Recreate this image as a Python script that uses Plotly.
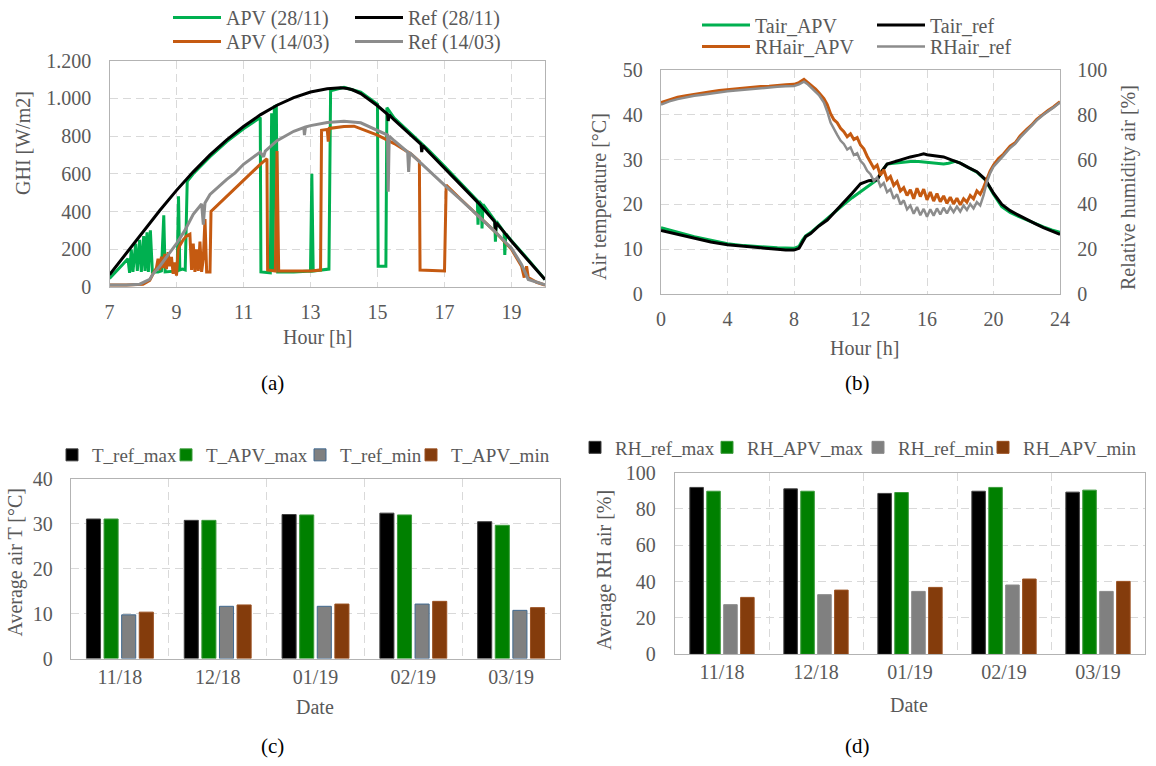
import plotly.graph_objects as go

W, H = 1156, 766
FONT = "Liberation Serif"
TXT = "#595959"
GRID = "#d9d9d9"
FRAME = "#b3b3b3"

# ---------------- (a) GHI data (hour, W/m2) ----------------
ghi_hour_ticks = [7, 9, 11, 13, 15, 17, 19]
ghi_value_ticks = [0, 200, 400, 600, 800, 1000, 1200]
ghi_value_labels = ["0", "200", "400", "600", "800", "1.000", "1.200"]

apv_2811 = [(7.00, 45), (7.20, 80), (7.40, 120), (7.55, 150), (7.60, 75), (7.65, 200), (7.70, 80),
            (7.78, 230), (7.83, 85), (7.90, 250), (7.95, 80), (8.02, 270), (8.06, 85), (8.12, 290),
            (8.16, 80), (8.22, 300), (8.28, 80), (8.45, 80), (8.55, 85), (8.62, 380), (8.66, 80),
            (9.02, 85), (9.06, 480), (9.10, 90), (9.18, 95), (9.26, 90), (9.32, 560), (9.50, 600),
            (10.0, 690), (10.5, 770), (11.0, 838), (11.5, 898), (11.52, 80), (11.80, 75), (11.84, 920),
            (11.88, 90), (11.92, 955), (11.98, 960), (12.02, 80), (12.5, 80), (13.0, 85), (13.04, 600),
            (13.08, 85), (13.55, 95), (13.60, 1040), (14.0, 1058), (14.5, 1032), (15.0, 968),
            (15.02, 110), (15.25, 110), (15.28, 950), (15.5, 895), (16.0, 815), (16.5, 730),
            (17.0, 640), (17.5, 550), (17.98, 458), (18.0, 330), (18.03, 455), (18.10, 440),
            (18.12, 310), (18.15, 438), (18.50, 352), (18.52, 240), (18.55, 348), (18.78, 290),
            (18.80, 170), (18.83, 282), (19.0, 245), (19.5, 145), (19.8, 85), (20.0, 40)]

ref_2811 = [(7.0, 65), (7.5, 180), (8.0, 295), (8.5, 405), (9.0, 512), (9.5, 610), (10.0, 700),
            (10.5, 780), (11.0, 850), (11.5, 912), (12.0, 963), (12.5, 1003), (13.0, 1033),
            (13.5, 1050), (13.9, 1055), (14.1, 1052), (14.25, 1045), (14.5, 1025),
            (15.0, 960), (15.3, 915), (15.32, 880), (15.35, 912), (15.5, 885), (16.0, 805),
            (16.3, 755), (16.32, 715), (16.35, 750), (16.5, 720), (17.0, 630), (17.5, 540),
            (18.0, 447), (18.5, 345), (18.52, 290), (18.55, 340), (19.0, 242), (19.5, 140),
            (19.8, 82), (20.0, 40)]

apv_1403 = [(7.0, 10), (7.5, 10), (8.0, 15), (8.2, 35), (8.3, 70), (8.4, 100), (8.45, 150), (8.5, 90),
            (8.55, 160), (8.6, 100), (8.65, 175), (8.7, 95), (8.75, 185), (8.8, 110), (8.85, 160),
            (8.9, 70), (8.95, 130), (9.0, 60), (9.05, 200), (9.1, 220), (9.2, 250), (9.3, 270),
            (9.4, 280), (9.45, 90), (9.5, 230), (9.55, 80), (9.6, 200), (9.65, 85), (9.7, 240),
            (9.75, 80), (9.8, 150), (9.85, 360), (9.9, 80), (10.0, 80), (10.03, 400), (10.5, 480),
            (11.0, 570), (11.5, 650), (11.7, 680), (11.72, 90), (11.95, 85), (12.0, 720), (12.05, 85),
            (12.5, 85), (13.0, 85), (13.3, 90), (13.33, 830), (13.5, 835), (13.53, 770), (13.56, 840),
            (14.0, 850), (14.3, 852), (15.0, 805), (15.5, 760), (16.0, 705), (16.25, 665), (16.27, 90),
            (17.0, 85), (17.05, 540), (17.5, 462), (18.0, 380), (18.5, 295), (19.0, 200), (19.3, 110),
            (19.38, 50), (19.45, 110), (19.5, 50), (19.6, 40), (19.75, 25), (20.0, 10)]

ref_1403 = [(7.0, 10), (7.5, 10), (7.9, 15), (8.2, 40), (8.3, 70), (8.5, 110), (8.75, 170), (9.0, 230),
            (9.25, 300), (9.5, 385), (9.75, 440), (9.8, 330), (9.85, 445), (10.0, 490), (10.5, 570),
            (10.75, 605), (11.0, 650), (11.5, 715), (11.6, 690), (11.65, 720), (12.0, 775),
            (12.5, 825), (12.8, 845), (12.82, 805), (12.85, 848), (13.0, 855), (13.5, 872),
            (14.0, 878), (14.5, 870), (15.0, 830), (15.3, 805), (15.32, 505), (15.35, 800),
            (15.5, 775), (15.9, 715), (15.93, 610), (15.96, 712), (16.0, 705), (16.5, 620),
            (17.0, 540), (17.5, 460), (18.0, 380), (18.5, 295), (19.0, 205), (19.3, 120),
            (19.5, 40), (19.75, 25), (20.0, 12)]

# ---------------- (b) air temperature / RH data (hour, value) ----------------
tair_apv = [(0, 14.8), (1, 13.8), (2, 12.8), (3, 12.0), (4, 11.2), (5, 10.8), (6, 10.5), (7, 10.3),
            (8, 10.2), (8.3, 10.6), (8.5, 12.0), (8.7, 13.0), (9, 13.7), (9.5, 15.3), (10, 16.8),
            (10.5, 18.6), (11, 20.0), (11.5, 21.5), (12, 22.8), (12.5, 24.0), (13, 25.5), (13.3, 27.5),
            (13.6, 29.0), (14, 29.2), (14.5, 29.4), (15, 29.6), (15.5, 29.6), (16, 29.4), (16.5, 29.1),
            (17, 29.0), (17.3, 29.2), (17.7, 29.6), (18, 29.2), (18.5, 28.2), (19, 27.2), (19.5, 25.5),
            (20, 22.3), (20.5, 19.5), (21, 18.2), (21.5, 17.3), (22, 16.5), (22.5, 15.7), (23, 15.0),
            (23.5, 14.3), (24, 13.8)]

tair_ref = [(0, 14.2), (1, 13.3), (2, 12.4), (3, 11.6), (4, 11.0), (5, 10.6), (6, 10.3), (7, 10.0),
            (7.5, 9.8), (8, 9.8), (8.3, 10.2), (8.5, 11.5), (8.7, 12.8), (9, 13.5), (9.5, 15.2),
            (10, 16.5), (10.5, 18.5), (11, 20.3), (11.5, 22.5), (12, 24.6), (12.5, 25.3), (13, 25.5),
            (13.3, 27.5), (13.6, 29.0), (14, 29.5), (14.5, 30.0), (15, 30.6), (15.5, 31.0), (15.8, 31.3),
            (16, 31.1), (16.5, 30.8), (17, 30.6), (17.5, 29.9), (18, 29.2), (18.5, 28.2), (19, 27.3),
            (19.5, 25.6), (20, 22.5), (20.5, 20.0), (21, 18.6), (21.5, 17.6), (22, 16.6), (22.5, 15.7),
            (23, 14.8), (23.5, 14.0), (24, 13.3)]

rhair_apv = [(0, 85.5), (0.5, 86.8), (1, 87.8), (1.5, 88.5), (2, 89.2), (2.5, 89.6), (3, 90.3),
             (3.5, 90.8), (4, 91.2), (4.5, 91.4), (5, 91.9), (5.5, 92.3), (6, 92.6), (6.5, 92.8),
             (7, 93.2), (7.5, 93.4), (8, 93.6), (8.3, 94.4), (8.6, 95.8), (8.8, 94.6), (9, 93.3),
             (9.3, 91.5), (9.5, 89.8), (9.8, 87.2), (10, 84.5), (10.2, 80.5), (10.4, 77.8), (10.6, 76.5),
             (10.8, 74.0), (11, 72.5), (11.2, 70.2), (11.4, 71.5), (11.6, 69.0), (11.8, 69.8), (12, 66.5),
             (12.2, 64.8), (12.4, 61.5), (12.6, 59.0), (12.8, 56.2), (13, 57.5), (13.2, 53.0), (13.4, 55.5),
             (13.6, 51.0), (13.8, 52.5), (14, 48.5), (14.2, 50.2), (14.4, 46.0), (14.6, 47.5), (14.8, 44.0),
             (15, 46.5), (15.2, 42.5), (15.4, 47.2), (15.6, 43.5), (15.8, 46.8), (16, 42.0), (16.2, 45.5),
             (16.4, 41.5), (16.6, 44.8), (16.8, 41.2), (17, 43.8), (17.2, 40.5), (17.4, 43.2), (17.6, 40.2),
             (17.8, 42.8), (18, 39.8), (18.2, 42.5), (18.4, 41.0), (18.6, 44.0), (18.8, 42.5), (19, 46.0),
             (19.2, 44.5), (19.4, 47.5), (19.6, 51.5), (19.8, 55.0), (20, 57.5), (20.3, 60.5), (20.6, 62.5),
             (21, 66.0), (21.3, 67.5), (21.6, 70.5), (22, 73.5), (22.3, 75.5), (22.6, 78.0), (23, 80.5),
             (23.3, 82.0), (23.6, 83.5), (24, 85.8)]

rhair_ref = [(0, 84.6), (0.5, 86.0), (1, 87.0), (1.5, 87.8), (2, 88.5), (2.5, 89.0), (3, 89.6),
             (3.5, 90.1), (4, 90.5), (4.5, 90.8), (5, 91.2), (5.5, 91.6), (6, 91.9), (6.5, 92.2),
             (7, 92.5), (7.5, 92.7), (8, 92.9), (8.3, 93.6), (8.6, 94.8), (8.8, 93.8), (9, 92.4),
             (9.3, 90.5), (9.5, 88.8), (9.8, 85.5), (10, 81.5), (10.2, 76.5), (10.4, 73.5), (10.6, 71.0),
             (10.8, 68.5), (11, 67.0), (11.2, 64.5), (11.4, 65.5), (11.6, 62.0), (11.8, 62.8), (12, 59.5),
             (12.2, 57.8), (12.4, 55.0), (12.6, 53.5), (12.8, 50.5), (13, 52.0), (13.2, 48.0), (13.4, 49.5),
             (13.6, 45.5), (13.8, 46.8), (14, 42.5), (14.2, 44.5), (14.4, 40.0), (14.6, 41.8), (14.8, 37.8),
             (15, 39.5), (15.2, 35.8), (15.4, 38.8), (15.6, 35.2), (15.8, 38.0), (16, 34.5), (16.2, 37.8),
             (16.4, 35.0), (16.6, 38.2), (16.8, 35.5), (17, 38.5), (17.2, 36.0), (17.4, 38.8), (17.6, 36.5),
             (17.8, 39.0), (18, 36.8), (18.2, 39.5), (18.4, 37.5), (18.6, 40.2), (18.8, 38.2), (19, 41.0),
             (19.2, 39.5), (19.4, 44.0), (19.6, 50.0), (19.8, 54.0), (20, 56.8), (20.3, 59.5), (20.6, 61.8),
             (21, 65.2), (21.3, 67.0), (21.6, 69.8), (22, 72.8), (22.3, 75.0), (22.6, 77.5), (23, 80.0),
             (23.3, 81.5), (23.6, 83.2), (24, 85.5)]

# ---------------- (c) / (d) monthly averages ----------------
months = ["11/18", "12/18", "01/19", "02/19", "03/19"]
t_ref_max = [31.0, 30.7, 32.0, 32.3, 30.4]
t_apv_max = [31.0, 30.7, 31.9, 31.9, 29.6]
t_ref_min = [9.7, 11.6, 11.6, 12.1, 10.7]
t_apv_min = [10.3, 11.9, 12.1, 12.7, 11.3]

rh_ref_max = [91.8, 91.0, 88.5, 89.7, 89.2]
rh_apv_max = [89.7, 89.7, 89.0, 91.8, 90.3]
rh_ref_min = [27.3, 32.8, 34.6, 38.1, 34.6]
rh_apv_min = [31.3, 35.3, 36.8, 41.4, 40.1]


def hx(p):
    return p / W


def vy(p):
    return 1 - p / H


fig = go.Figure()


def add_line(data, name, color, width, legend, xa, ya):
    fig.add_trace(go.Scatter(x=[d[0] for d in data], y=[d[1] for d in data], mode="lines",
                             name=name, line=dict(color=color, width=width),
                             legend=legend, xaxis=xa, yaxis=ya, hoverinfo="x+y+name"))


# (a)
add_line(apv_2811, "APV (28/11)", "#00B050", 3, "legend", "x", "y")
add_line(ref_2811, "Ref (28/11)", "#000000", 3, "legend2", "x", "y")
add_line(apv_1403, "APV (14/03)", "#C55A11", 3, "legend3", "x", "y")
add_line(ref_1403, "Ref (14/03)", "#8C8C8C", 3, "legend4", "x", "y")

# (b)
add_line(tair_apv, "Tair_APV", "#00B050", 3, "legend5", "x2", "y2")
add_line(tair_ref, "Tair_ref", "#000000", 3, "legend6", "x2", "y2")
add_line(rhair_apv, "RHair_APV", "#C55A11", 3, "legend7", "x2", "y3")
add_line(rhair_ref, "RHair_ref", "#8C8C8C", 2.5, "legend8", "x2", "y3")


def add_bar(vals, name, color, edge, legend, xa, ya):
    fig.add_trace(go.Bar(x=months, y=vals, name=name, marker=dict(color=color, line=dict(color=edge, width=1)),
                         legend=legend, xaxis=xa, yaxis=ya))


# (c)
add_bar(t_ref_max, "T_ref_max", "#000000", "#404040", "legend9", "x3", "y4")
add_bar(t_apv_max, "T_APV_max", "#008000", "#3a9a3a", "legend10", "x3", "y4")
add_bar(t_ref_min, "T_ref_min", "#808080", "#41698f", "legend11", "x3", "y4")
add_bar(t_apv_min, "T_APV_min", "#843C0C", "#9a5020", "legend12", "x3", "y4")
# (d)
add_bar(rh_ref_max, "RH_ref_max", "#000000", "#404040", "legend13", "x4", "y5")
add_bar(rh_apv_max, "RH_APV_max", "#008000", "#3a9a3a", "legend14", "x4", "y5")
add_bar(rh_ref_min, "RH_ref_min", "#808080", "#8a8a8a", "legend15", "x4", "y5")
add_bar(rh_apv_min, "RH_APV_min", "#843C0C", "#9a5020", "legend16", "x4", "y5")

tfont = dict(family=FONT, size=20, color=TXT)
lfont_bar = dict(family=FONT, size=19, color=TXT)


def axis(dom, **kw):
    d = dict(domain=dom, showgrid=True, gridcolor=GRID, griddash="8px,5px", gridwidth=1.3,
             showline=True, mirror=True, linecolor=FRAME, linewidth=1.3, zeroline=False,
             ticks="outside", tickcolor="rgba(0,0,0,0)", tickfont=tfont, fixedrange=True)
    d.update(kw)
    return d


def legend_at(text_x, y, iw, font):
    return dict(x=hx(text_x - (iw + 10)), y=vy(y), xanchor="left", yanchor="middle",
                orientation="h", bgcolor="rgba(0,0,0,0)", borderwidth=0, font=font,
                itemwidth=iw, visible=True)


layout = dict(
    width=W, height=H, margin=dict(l=0, r=0, t=0, b=0, autoexpand=False), autosize=False,
    paper_bgcolor="white", plot_bgcolor="white", showlegend=True,
    font=dict(family=FONT, size=20, color=TXT),
    barmode="group", bargap=0.28, bargroupgap=0.2,
    xaxis=axis([hx(109.5), hx(545)], anchor="y", range=[7, 20], tickvals=ghi_hour_ticks, ticklen=7),
    yaxis=axis([vy(287), vy(60.5)], anchor="x", range=[0, 1200], tickvals=ghi_value_ticks,
               ticktext=ghi_value_labels, ticklen=13),
    xaxis2=axis([hx(661), hx(1060)], anchor="y2", range=[0, 24], dtick=4, tick0=0, ticklen=7),
    yaxis2=axis([vy(294), vy(70)], anchor="x2", range=[0, 50], dtick=10, tick0=0, ticklen=13),
    yaxis3=axis([vy(294), vy(70)], anchor="x2", overlaying="y2", side="right", range=[0, 100],
                dtick=20, tick0=0, ticklen=12, showgrid=False, mirror=False),
    xaxis3=axis([hx(71), hx(560)], anchor="y4", type="category", tickson="boundaries", ticklen=14),
    yaxis4=axis([vy(658.5), vy(478.5)], anchor="x3", range=[0, 40], dtick=10, tick0=0, ticklen=13),
    xaxis4=axis([hx(675), hx(1145)], anchor="y5", type="category", tickson="boundaries", ticklen=13),
    yaxis5=axis([vy(654.3), vy(472.5)], anchor="x4", range=[0, 100], dtick=20, tick0=0, ticklen=14),
    hovermode="closest",
)

# legends (one per entry, placed like the original)
leg_specs = {
    "legend": (226, 17.5, 48, tfont), "legend2": (408, 17.5, 48, tfont),
    "legend3": (226, 41.6, 48, tfont), "legend4": (408, 41.6, 48, tfont),
    "legend5": (755, 24.9, 48, tfont), "legend6": (930, 24.9, 48, tfont),
    "legend7": (755, 46.6, 48, tfont), "legend8": (930, 46.6, 48, tfont),
    "legend9": (92, 455, 30, lfont_bar), "legend10": (206, 455, 30, lfont_bar),
    "legend11": (340, 455, 30, lfont_bar), "legend12": (451, 455, 30, lfont_bar),
    "legend13": (615, 447.5, 30, lfont_bar), "legend14": (747, 447.5, 30, lfont_bar),
    "legend15": (898, 447.5, 30, lfont_bar), "legend16": (1023, 447.5, 30, lfont_bar),
}
for k, (tx, ty, iw, f) in leg_specs.items():
    layout[k] = legend_at(tx, ty, iw, f)

titles = [
    ("GHI [W/m2]", 23, 143, -90), ("Hour [h]", 317, 337, 0),
    ("Air temperature [°C]", 599, 197, -90), ("Relative humidity air [%]", 1128, 188, -90),
    ("Hour [h]", 864, 348, 0),
    ("Average air T [°C]", 14.5, 562, -90), ("Date", 315, 707, 0),
    ("Average RH air [%]", 604, 570, -90), ("Date", 909, 705, 0),
]
ann = []
for txt, x, y, ang in titles:
    ann.append(dict(text=txt, x=hx(x), y=vy(y), xref="paper", yref="paper", showarrow=False,
                    xanchor="center", yanchor="middle", textangle=ang, font=tfont))
for txt, x, y in [("(a)", 272, 383), ("(b)", 857, 383), ("(c)", 272, 746), ("(d)", 857, 746)]:
    ann.append(dict(text=txt, x=hx(x), y=vy(y), xref="paper", yref="paper", showarrow=False,
                    xanchor="center", yanchor="middle", font=dict(family=FONT, size=21, color="#000000")))
layout["annotations"] = ann

fig.update_layout(**layout)
fig.write_html("out.html", config={"displayModeBar": False})
